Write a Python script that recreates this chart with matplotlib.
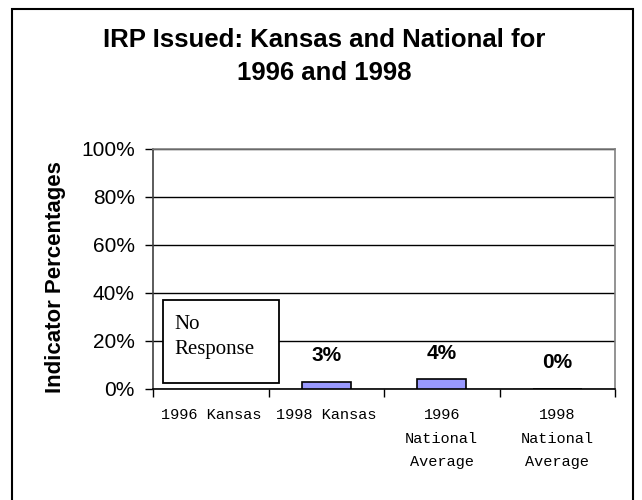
import matplotlib
matplotlib.use("Agg")
import matplotlib.pyplot as plt
from matplotlib.patches import Rectangle
from matplotlib.ticker import FixedLocator, PercentFormatter

categories = ["1996 Kansas", "1998 Kansas", "1996\nNational\nAverage", "1998\nNational\nAverage"]
values = [None, 3, 4, 0]
yticks = [0, 20, 40, 60, 80, 100]
title_lines = ["IRP Issued: Kansas and National for", "1996 and 1998"]
ylabel = "Indicator Percentages"
no_response = "No\nResponse"

W, H = 642, 500
fig = plt.figure(figsize=(W / 100, H / 100), dpi=100)

# outer border
fig.patches.append(Rectangle((12 / W, -0.01), (633 - 12) / W, (H - 9) / H + 0.01, transform=fig.transFigure,
                             fill=False, edgecolor="black", linewidth=1.5))

ax = fig.add_axes([153 / W, (H - 389) / H, (615 - 153) / W, (389 - 149) / H])
xs = [i for i, v in enumerate(values) if v is not None]
vs = [v for v in values if v is not None]
ax.bar(xs, vs, width=0.42, color="#9999FF", edgecolor="black", linewidth=1.2, zorder=3)
for x, v in zip(xs, vs):
    ax.annotate(f"{v}%", (x, v), xytext=(0, 19), textcoords="offset points",
                ha="center", va="center", fontsize=15, fontweight="bold",
                family="Liberation Sans")

ax.set_xlim(-0.5, 3.5)
ax.set_ylim(0, 100)
ax.yaxis.set_major_locator(FixedLocator(yticks))
ax.yaxis.set_major_formatter(PercentFormatter(decimals=0))
ax.grid(axis="y", color="black", linewidth=1)
ax.set_axisbelow(True)
ax.set_xticks(range(len(categories)))
ax.set_xticklabels(categories, family="Liberation Mono", fontsize=11, linespacing=1.85, va="top")
ax.set_xticks([i - 0.5 for i in range(len(categories) + 1)], minor=True)
ax.tick_params(axis="x", which="major", length=0, pad=14)
ax.tick_params(axis="x", which="minor", length=6, width=1, direction="out")
ax.tick_params(axis="y", length=6, width=1, direction="out", pad=7, labelsize=15)
for lab in ax.get_yticklabels():
    lab.set_family("Liberation Sans")
for side in ["top", "right"]:
    ax.spines[side].set_color("#808080")
ax.spines["left"].set_color("#404040")
ax.spines["bottom"].set_color("black")
for s in ax.spines.values():
    s.set_linewidth(1.2)

fig.text(55 / W, 1 - 277 / H, ylabel, rotation=90, ha="center", va="center",
         fontsize=16, fontweight="bold", family="Liberation Sans")
for yy, line in zip([40, 73], title_lines):
    fig.text(324 / W, 1 - yy / H, line, ha="center", va="center", fontsize=18.5,
             fontweight="bold", family="Liberation Sans")

# "No Response" box
fig.patches.append(Rectangle((163 / W, 1 - 383 / H), (279 - 163) / W, (383 - 300) / H,
                             transform=fig.transFigure, facecolor="white",
                             edgecolor="black", linewidth=1.3, zorder=5))
fig.text(174 / W, 1 - 337 / H, no_response, ha="left", va="center", fontsize=15,
         family="Liberation Serif", linespacing=1.4, zorder=6)

fig.savefig("out.png", dpi=100)
